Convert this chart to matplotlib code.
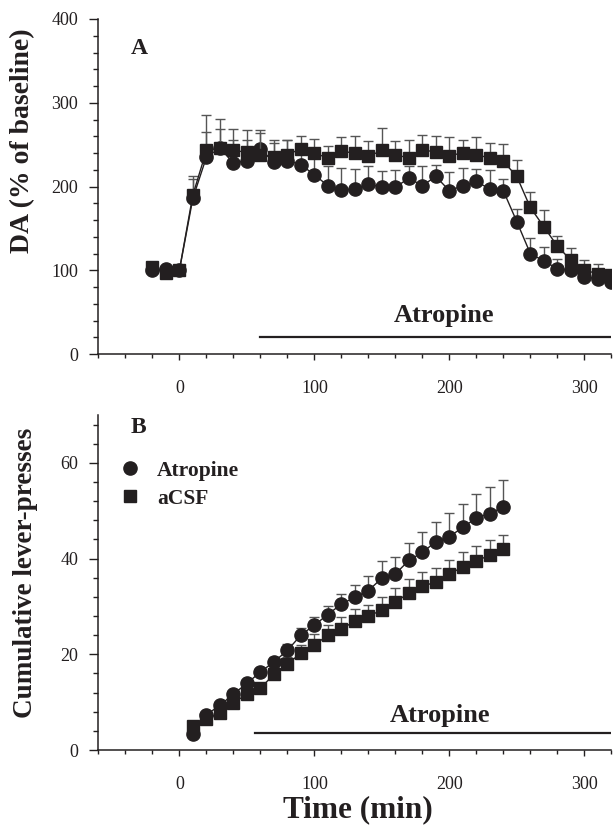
import numpy as np
import matplotlib
matplotlib.use("Agg")
import matplotlib.pyplot as plt
from matplotlib.lines import Line2D
from matplotlib.ticker import MultipleLocator

plt.rcParams['font.family'] = ['Liberation Serif', 'DejaVu Serif']

# Panel A: DA (% of baseline)
time_a = [-20, -10, 0, 10, 20, 30, 40, 50, 60, 70, 80, 90, 100, 110, 120, 130, 140,
          150, 160, 170, 180, 190, 200, 210, 220, 230, 240, 250, 260, 270, 280,
          290, 300, 310, 320]
atropine_a = [100, 101, 100, 186, 235, 246, 228, 231, 245, 229, 231, 226, 214, 201,
              196, 197, 203, 199, 199, 210, 201, 212, 195, 201, 206, 197, 195, 158,
              120, 111, 102, 100, 92, 90, 86]
atropine_a_sem = [3, 3, 2, 23, 30, 23, 27, 24, 23, 23, 24, 20, 24, 23, 26, 24, 22,
                  19, 21, 14, 23, 14, 22, 21, 15, 23, 14, 15, 18, 17, 12, 10, 9, 9, 8]
acsf_a = [104, 97, 100, 190, 243, 246, 243, 241, 238, 235, 238, 245, 240, 234, 242,
          240, 236, 243, 238, 234, 244, 241, 237, 240, 238, 234, 230, 212, 175, 152,
          129, 112, 100, 96, 94]
acsf_a_sem = [3, 3, 2, 23, 42, 35, 26, 26, 26, 20, 17, 15, 17, 14, 17, 20, 18, 27,
              16, 21, 18, 19, 22, 16, 21, 18, 21, 20, 18, 20, 12, 15, 12, 12, 6]

# Panel B: cumulative lever-presses
time_b = [10, 20, 30, 40, 50, 60, 70, 80, 90, 100, 110, 120, 130, 140, 150, 160,
          170, 180, 190, 200, 210, 220, 230, 240]
atropine_b = [3.3, 7.4, 9.3, 11.7, 13.9, 16.3, 18.4, 20.8, 24.0, 26.1, 28.3, 30.5,
              31.9, 33.3, 35.9, 36.8, 39.6, 41.3, 43.5, 44.6, 46.5, 48.5, 49.4, 50.8]
atropine_b_sem = [0.4, 0.5, 0.6, 0.7, 0.8, 0.9, 1.0, 1.3, 1.4, 1.6, 1.8, 2.2, 2.5,
                  3.0, 3.5, 3.5, 3.7, 4.3, 4.2, 4.9, 4.8, 5.0, 5.6, 5.7]
acsf_b = [5.0, 6.5, 7.7, 9.8, 11.7, 12.9, 15.8, 18.0, 20.2, 21.9, 24.0, 25.3, 26.9,
          28.0, 29.2, 30.9, 32.8, 34.2, 35.1, 36.7, 38.3, 39.4, 40.8, 42.0]
acsf_b_sem = [0.3, 0.4, 0.5, 0.6, 0.8, 1.0, 1.3, 1.5, 1.8, 2.3, 2.2, 2.5, 2.5, 2.4,
              2.7, 2.9, 3.0, 2.9, 3.0, 3.1, 3.0, 3.2, 3.0, 3.0]

# Atropine infusion periods
bar_a = [60, 320]
bar_b = [56, 320]

ink = '#231f20'
err_col = '#555555'

fig = plt.figure(figsize=(6.15, 8.26), dpi=100)
axA = fig.add_axes([0.16, 0.5714, 0.834, 0.4056])
axB = fig.add_axes([0.16, 0.092, 0.834, 0.4056])


def draw_series(ax, x, y, sem, marker, ms, z):
    ax.errorbar(x, y, yerr=[np.zeros(len(sem)), sem], fmt='none', ecolor=err_col,
                elinewidth=1.0, capsize=3.5, capthick=1.0, zorder=z)
    ax.plot(x, y, color=ink, lw=1.0, marker=marker, ms=ms, mfc=ink, mec=ink,
            zorder=z + 1)


def style_axis(ax, ymax, ymajor, yminor):
    ax.set_xlim(-60, 320)
    ax.set_ylim(0, ymax)
    for s in ['top', 'right']:
        ax.spines[s].set_visible(False)
    for s in ['left', 'bottom']:
        ax.spines[s].set_linewidth(1.1)
        ax.spines[s].set_color(ink)
    ax.xaxis.set_major_locator(MultipleLocator(100))
    ax.xaxis.set_minor_locator(MultipleLocator(20))
    ax.yaxis.set_major_locator(MultipleLocator(ymajor))
    ax.yaxis.set_minor_locator(MultipleLocator(yminor))
    ax.tick_params(axis='x', which='major', direction='out', length=4.5, width=1.0,
                   pad=14, labelsize=13, colors=ink)
    ax.tick_params(axis='x', which='minor', direction='out', length=3, width=1.0,
                   colors=ink)
    ax.tick_params(axis='y', which='major', direction='out', length=6.5, width=1.0,
                   pad=8, labelsize=13, colors=ink)
    ax.tick_params(axis='y', which='minor', direction='out', length=3.6, width=1.0,
                   colors=ink)


# Panel A
draw_series(axA, time_a, atropine_a, atropine_a_sem, 'o', 9.5, 3)
draw_series(axA, time_a, acsf_a, acsf_a_sem, 's', 8.5, 5)
style_axis(axA, 400, 100, 20)
axA.plot(bar_a, [20, 20], color=ink, lw=1.6)
axA.text(196, 38, 'Atropine', ha='center', va='baseline', fontsize=19,
         fontweight='bold', color=ink)
axA.text(0.079, 0.913, 'A', transform=axA.transAxes, ha='center', va='center',
         fontsize=17, fontweight='bold', color=ink)

# Panel B
draw_series(axB, time_b, acsf_b, acsf_b_sem, 's', 8.5, 3)
draw_series(axB, time_b, atropine_b, atropine_b_sem, 'o', 9.5, 5)
style_axis(axB, 70, 20, 4)
axB.plot(bar_b, [3.5, 3.5], color=ink, lw=1.6)
axB.text(193, 5.9, 'Atropine', ha='center', va='baseline', fontsize=19,
         fontweight='bold', color=ink)
axB.text(0.079, 0.964, 'B', transform=axB.transAxes, ha='center', va='center',
         fontsize=17, fontweight='bold', color=ink)

handles = [Line2D([], [], ls='none', marker='o', ms=9.5, color=ink),
           Line2D([], [], ls='none', marker='s', ms=8.5, color=ink)]
leg = axB.legend(handles, ['Atropine', 'aCSF'], loc='upper left',
                 bbox_to_anchor=(0.02, 0.895), frameon=False, handlelength=1.0,
                 handletextpad=0.75, labelspacing=0.35, borderpad=0,
                 prop={'weight': 'bold', 'size': 15.5})
for t in leg.get_texts():
    t.set_color(ink)

# Axis titles
fig.text(23 / 615, 1 - 141 / 826, 'DA (% of baseline)', rotation=90, ha='center',
         va='center', fontsize=20, fontweight='bold', color=ink)
fig.text(26 / 615, 1 - 573 / 826, 'Cumulative lever-presses', rotation=90,
         ha='center', va='center', fontsize=19.5, fontweight='bold', color=ink)
fig.text(358 / 615, 1 - 810 / 826, 'Time (min)', ha='center', va='center',
         fontsize=22.5, fontweight='bold', color=ink)

fig.savefig('out.png', dpi=100)
